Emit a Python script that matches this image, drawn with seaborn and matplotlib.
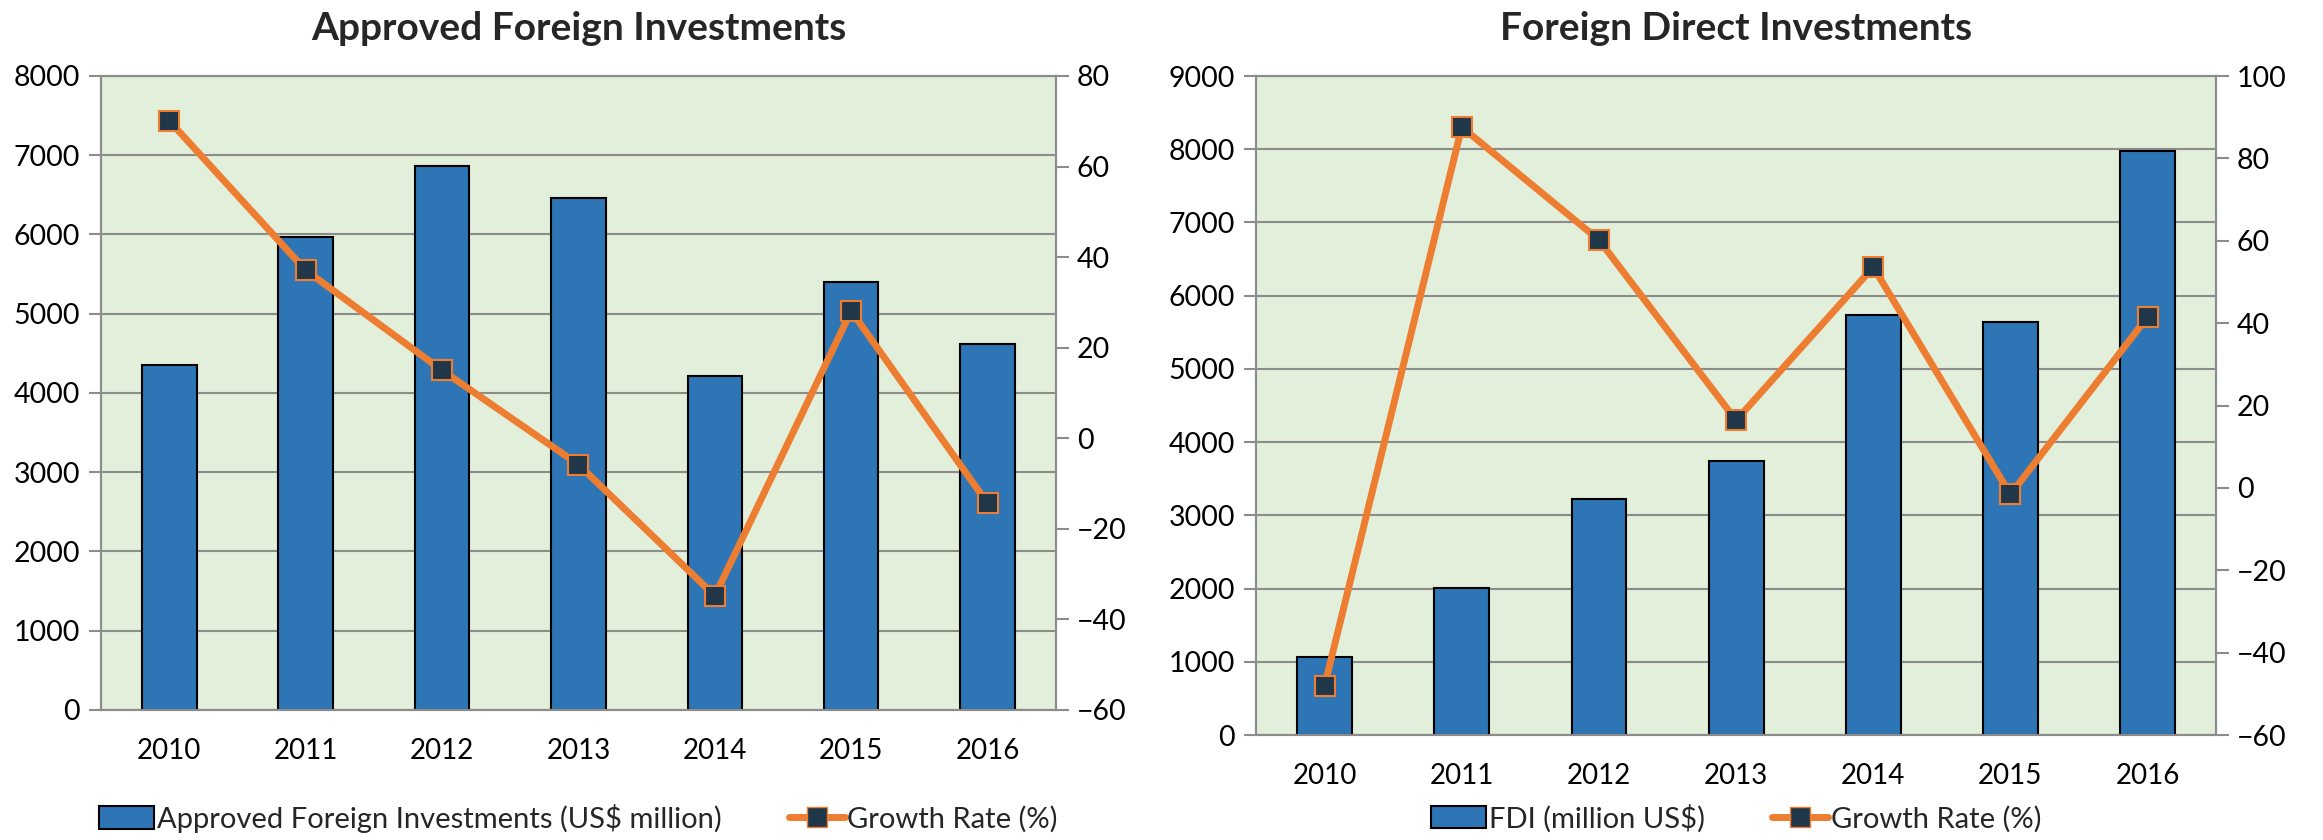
import numpy as np
import pandas as pd
import matplotlib
matplotlib.use("Agg")
import matplotlib.pyplot as plt
import matplotlib.transforms as mtransforms
import seaborn as sns
from matplotlib.patches import Patch
from matplotlib.lines import Line2D

# ============================================================
# DATA
# ============================================================
years = ["2010", "2011", "2012", "2013", "2014", "2015", "2016"]

approved = [4350, 5970, 6860, 6460, 4220, 5400, 4620]
approved_growth = [70.1, 37.1, 15.0, -5.8, -34.8, 28.1, -14.4]

fdi = [1070, 2010, 3220, 3740, 5740, 5640, 7980]
fdi_growth = [-48.0, 87.6, 60.2, 16.4, 53.6, -1.6, 41.5]

# ============================================================
# STYLE
# ============================================================
sns.set_theme(style="white")
plt.rcParams["font.family"] = ["Lato", "DejaVu Sans"]

bar_blue = "#2E75B6"
line_orange = "#ED7D31"
marker_navy = "#203649"
bg_green = "#E2EFDA"
grid_gray = "#8C8C8C"

fig = plt.figure(figsize=(23.23, 8.4), dpi=100)
ax_left = fig.add_axes([0.0435, 0.1548, 0.411, 0.7548])
ax_right = fig.add_axes([0.5407, 0.125, 0.4133, 0.7845])


def draw_panel(ax, values, growth, title, bar_label, ylim, yticks, y2lim, y2ticks, legend_y):
    ax.set_facecolor(bg_green)
    sns.barplot(x=years, y=values, ax=ax, color=bar_blue, width=0.4,
                edgecolor="black", linewidth=1.5, saturation=1)
    ax.set_ylim(*ylim)
    ax.set_yticks(yticks)
    ax.set_axisbelow(True)
    ax.yaxis.grid(True, color=grid_gray, linewidth=1.5)
    ax.xaxis.grid(False)

    ax2 = ax.twinx()
    sns.pointplot(x=years, y=growth, ax=ax2, color=line_orange, errorbar=None,
                  marker="s", markersize=14, markerfacecolor=marker_navy,
                  markeredgecolor=line_orange, markeredgewidth=1.5, linewidth=5)
    ax2.set_ylim(*y2lim)
    ax2.set_yticks(y2ticks)
    ax2.grid(False)

    for a in (ax, ax2):
        a.set_xlim(-0.5, len(years) - 0.5)
        a.set_xlabel("")
        a.set_ylabel("")
        for sp in a.spines.values():
            sp.set_color(grid_gray)
            sp.set_linewidth(1.5)

    # category labels centred, tick marks between categories
    ax.set_xticks(range(len(years)))
    ax.set_xticklabels(years)
    ax.set_xticks(np.arange(-0.5, len(years)), minor=True)
    ax.tick_params(axis="x", which="major", length=0, labelsize=20, pad=20, colors="black")
    ax.tick_params(axis="x", which="minor", length=9, width=1.5, color=grid_gray, direction="out")
    ax.tick_params(axis="y", length=9, width=1.5, color=grid_gray, labelsize=20.5,
                   labelcolor="black", direction="out", left=True, pad=6)
    ax2.tick_params(axis="y", length=9, width=1.5, color=grid_gray, labelsize=20.5,
                    labelcolor="black", direction="out", right=True, pad=6)
    ax2.tick_params(axis="x", which="both", length=0, labelbottom=False)

    ax.set_title(title, fontsize=28, fontweight="bold", pad=26)

    handles = [
        Patch(facecolor=bar_blue, edgecolor="black", linewidth=1.5),
        Line2D([0], [0], color=line_orange, linewidth=5, marker="s", markersize=14,
               markerfacecolor=marker_navy, markeredgecolor=line_orange),
    ]
    # centre the legend under its own panel, near the bottom of the figure
    trans = mtransforms.blended_transform_factory(ax.transAxes, fig.transFigure)
    ax.legend(handles, [bar_label, "Growth Rate (%)"], loc="center",
              bbox_to_anchor=(0.5, legend_y), bbox_transform=trans,
              ncol=2, frameon=False, fontsize=21, handlelength=1.9, handleheight=0.8,
              handletextpad=0.1, columnspacing=2.3)


draw_panel(ax_left, approved, approved_growth, "Approved Foreign Investments",
           "Approved Foreign Investments (US$ million)",
           (0, 8000), range(0, 8001, 1000), (-60, 80), range(-60, 81, 20), 0.026)

draw_panel(ax_right, fdi, fdi_growth, "Foreign Direct Investments",
           "FDI (million US$)",
           (0, 9000), range(0, 9001, 1000), (-60, 100), range(-60, 101, 20), 0.026)

fig.savefig("out.png", dpi=100)
